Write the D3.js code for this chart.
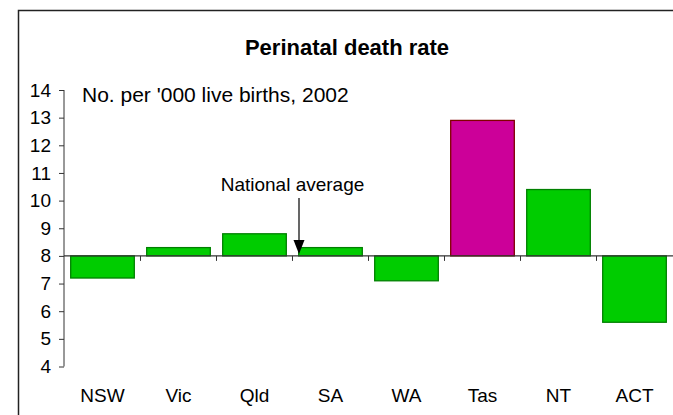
<!DOCTYPE html>
<html><head><meta charset="utf-8">
<script src="https://cdn.jsdelivr.net/npm/d3@7"></script>
<style>body{margin:0;background:#fff}svg{display:block;font-family:Arial,"Liberation Sans",sans-serif}</style>
</head><body>
<svg id="c" width="673" height="415"></svg>
<script>
const categories = ["NSW","Vic","Qld","SA","WA","Tas","NT","ACT"];
const values = [7.2, 8.3, 8.8, 8.3, 7.1, 12.9, 10.4, 5.6];
const highlight = ["Tas"];
const baseline = 8;
const yTicks = [4,5,6,7,8,9,10,11,12,13,14];

const svg = d3.select("#c");
// frame
svg.append("path").attr("d","M18.5,430 V10.5 H680").attr("fill","none").attr("stroke","#222").attr("stroke-width",1.5);

const x = d3.scaleBand().domain(categories).range([64,673]).paddingInner(0.163).paddingOuter(0.088);
const y = d3.scaleLinear().domain([4,14]).range([366.5,90]);

svg.append("text").attr("x",347).attr("y",55).attr("text-anchor","middle")
  .attr("font-size",22).attr("font-weight","bold").text("Perinatal death rate");
svg.append("text").attr("x",82).attr("y",102).attr("font-size",21).text("No. per '000 live births, 2002");

// bars
svg.selectAll("rect.bar").data(categories).join("rect")
  .attr("x",d=>x(d)).attr("width",x.bandwidth())
  .attr("y",(d,i)=>y(Math.max(values[i],baseline)))
  .attr("height",(d,i)=>Math.abs(y(values[i])-y(baseline)))
  .attr("fill",d=>highlight.includes(d)?"#cc0099":"#00cc00")
  .attr("stroke",d=>highlight.includes(d)?"#800000":"#008000")
  .attr("stroke-width",1.3);

// y axis
const ya = svg.append("g").attr("transform","translate(64,0)")
  .call(d3.axisLeft(y).tickValues(yTicks).tickSize(5).tickPadding(8).tickFormat(d3.format("d")));
ya.select(".domain").attr("stroke","#333").attr("d","M0,"+y(4)+"V"+y(14));
ya.selectAll("text").attr("font-size",19).attr("fill","#000").attr("font-family","Arial, 'Liberation Sans', sans-serif");
ya.selectAll(".tick line").attr("stroke","#333");

// x axis at baseline with boundary ticks
const xb = svg.append("g");
xb.append("line").attr("x1",64).attr("x2",673).attr("y1",y(baseline)).attr("y2",y(baseline)).attr("stroke","#333").attr("stroke-width",1.2);
const step = x.step();
const bounds = categories.slice(1).map(c=>x(c)-x.paddingInner()*step/2);
xb.selectAll("line.t").data(bounds).join("line").attr("class","t")
  .attr("x1",d=>d).attr("x2",d=>d).attr("y1",y(baseline)).attr("y2",y(baseline)+5).attr("stroke","#333");

// category labels
svg.selectAll("text.cat").data(categories).join("text").attr("class","cat")
  .attr("x",d=>x(d)+x.bandwidth()/2).attr("y",402).attr("text-anchor","middle").attr("font-size",19).text(d=>d);

// national average annotation
const ax = 299;
svg.append("text").attr("x",292.5).attr("y",191).attr("text-anchor","middle").attr("font-size",19).text("National average");
svg.append("line").attr("x1",ax).attr("x2",ax).attr("y1",198).attr("y2",242).attr("stroke","#000").attr("stroke-width",1.2);
svg.append("path").attr("d",`M${ax-5.5},${240} L${ax+5.5},${240} L${ax},${y(baseline)-2} Z`).attr("fill","#000");
</script>
</body></html>
